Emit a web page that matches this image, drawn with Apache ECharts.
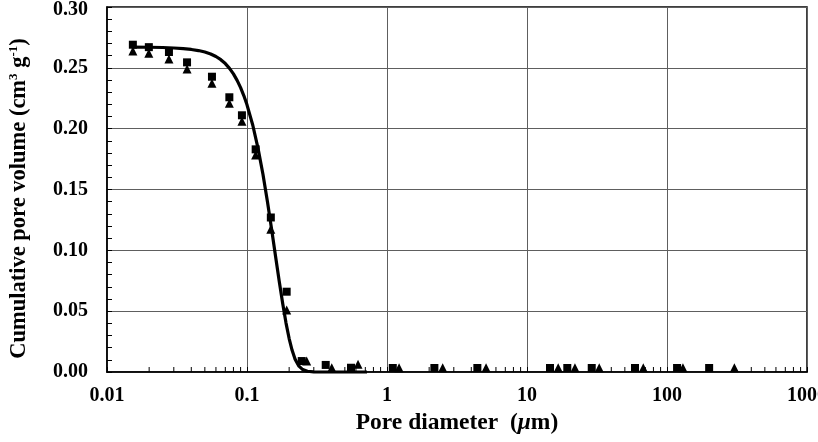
<!DOCTYPE html>
<html>
<head>
<meta charset="utf-8">
<script src="https://cdn.jsdelivr.net/npm/echarts@6/dist/echarts.min.js"></script>
<style>
html,body{margin:0;padding:0;background:#fff;}
#chart{width:818px;height:442px;}
</style>
</head>
<body>
<div id="chart"></div>
<script>
// ---- data ----
const squareX = [0.0153, 0.0199, 0.0277, 0.0373, 0.0562, 0.0748, 0.092, 0.1153, 0.148, 0.192, 0.246, 0.365, 0.553, 1.10, 2.18, 4.42, 14.6, 19.4, 29.0, 59.1, 118, 200];
const squareY = [0.269, 0.267, 0.263, 0.2545, 0.2427, 0.2258, 0.211, 0.183, 0.127, 0.066, 0.009, 0.0058, 0.0035, 0.0033, 0.0033, 0.0033, 0.0033, 0.0033, 0.0033, 0.0033, 0.0033, 0.0033];
const triangleX = [0.0153, 0.0199, 0.0277, 0.0373, 0.0562, 0.0748, 0.092, 0.1153, 0.148, 0.192, 0.267, 0.403, 0.621, 1.22, 2.50, 5.10, 16.7, 22.0, 32.8, 67.7, 130, 303];
const triangleY = [0.2638, 0.2619, 0.2573, 0.249, 0.2373, 0.2208, 0.206, 0.1784, 0.1173, 0.051, 0.009, 0.0035, 0.0063, 0.0035, 0.0035, 0.0035, 0.0035, 0.0035, 0.0035, 0.0035, 0.0035, 0.0035];
const curveX = [0.015, 0.02, 0.025, 0.03, 0.035, 0.04, 0.045, 0.05, 0.055, 0.06, 0.065, 0.07, 0.075, 0.08, 0.085, 0.09, 0.095, 0.10, 0.11, 0.12, 0.13, 0.14, 0.15, 0.16, 0.17, 0.18, 0.19, 0.20, 0.21, 0.22, 0.235, 0.25, 0.27, 0.30, 0.35, 0.40, 0.72];
const curveY = [0.267, 0.2669, 0.2667, 0.2663, 0.2658, 0.2651, 0.2642, 0.2630, 0.2614, 0.2593, 0.2567, 0.2535, 0.2496, 0.2450, 0.2397, 0.2337, 0.2270, 0.2196, 0.2028, 0.1836, 0.1625, 0.1400, 0.1172, 0.0950, 0.0744, 0.0560, 0.0402, 0.0275, 0.0178, 0.0108, 0.0048, 0.0020, 0.0006, 0.0001, 0, 0, 0];
const xTickLabels = ['0.01', '0.1', '1', '10', '100', '1000'];
const xDecades = [0.01, 0.1, 1, 10, 100];
const minorMultipliers = [2, 3, 4, 5, 6, 7, 8, 9];

const zip = (a, b) => a.map((v, i) => [v, b[i]]);
const minorTickData = [];
xDecades.forEach(d => minorMultipliers.forEach(m => minorTickData.push([d * m, 0])));

const FONT = '"Liberation Serif", "Times New Roman", serif';
const chart = echarts.init(document.getElementById('chart'), null, {renderer: 'canvas'});
chart.setOption({
  animation: false,
  backgroundColor: '#fff',
  grid: {left: 107, right: 11, top: 7, bottom: 70, containLabel: false, outerBoundsMode: 'none',
    show: true, borderColor: '#000', borderWidth: 1.5, backgroundColor: 'transparent'},
  xAxis: {
    type: 'log', logBase: 10, min: 0.01, max: 1000,
    name: 'Pore diameter  ({it|μ}m)',
    nameLocation: 'middle', nameGap: 35,
    nameTextStyle: {fontFamily: FONT, fontWeight: 'bold', fontSize: 23.5, color: '#000',
      rich: {it: {fontFamily: FONT, fontWeight: 'bold', fontStyle: 'italic', fontSize: 23.5, color: '#000'}}},
    axisLine: {show: true, lineStyle: {color: '#000', width: 1.5}},
    axisTick: {show: true, inside: true, length: 5, lineStyle: {color: '#000'}},
    minorTick: {show: false},
    axisLabel: {fontFamily: FONT, fontWeight: 'bold', fontSize: 20, color: '#000', margin: 14,
      formatter: (v, i) => xTickLabels[i] !== undefined ? xTickLabels[i] : ''},
    splitLine: {show: true, lineStyle: {color: '#5e5e5e', width: 1}}
  },
  yAxis: {
    type: 'value', min: 0, max: 0.3, interval: 0.05,
    name: 'Cumulative pore volume (cm{sup|3} g{sup|-1})',
    nameLocation: 'middle', nameGap: 76, nameRotate: 90,
    nameTextStyle: {fontFamily: FONT, fontWeight: 'bold', fontSize: 22.5, color: '#000', lineHeight: 24,
      padding: [0, 18, 0, 0],
      rich: {sup: {fontFamily: FONT, fontWeight: 'bold', fontSize: 13, color: '#000', verticalAlign: 'top', lineHeight: 24}}},
    axisLine: {show: true, lineStyle: {color: '#000', width: 1.5}},
    axisTick: {show: true, inside: true, length: 5, lineStyle: {color: '#000'}},
    minorTick: {show: true, splitNumber: 5, length: 5, lineStyle: {color: '#000'}},
    axisLabel: {fontFamily: FONT, fontWeight: 'bold', fontSize: 20, color: '#000', margin: 19,
      formatter: v => v >= 0.3 - 1e-9 ? '{top|' + v.toFixed(2) + '}' : v.toFixed(2),
      rich: {top: {fontFamily: FONT, fontWeight: 'bold', fontSize: 20, color: '#000', padding: [6, 0, 0, 0]}}},
    splitLine: {show: true, lineStyle: {color: '#5e5e5e', width: 1}}
  },
  series: [
    {
      type: 'custom', silent: true, clip: false, z: 3,
      data: minorTickData,
      encode: {x: 0, y: 1},
      renderItem: (params, api) => {
        const p = api.coord([api.value(0), 0]);
        return {type: 'line', shape: {x1: p[0], y1: p[1], x2: p[0], y2: p[1] - 5}, style: {stroke: '#000', lineWidth: 1}};
      }
    },
    {
      type: 'scatter', name: 'square', symbol: 'rect', symbolSize: 8, clip: false, z: 4,
      itemStyle: {color: '#000', opacity: 1},
      data: zip(squareX, squareY)
    },
    {
      type: 'scatter', name: 'triangle', symbol: 'triangle', symbolSize: 9, clip: false, z: 4,
      itemStyle: {color: '#000', opacity: 1},
      data: zip(triangleX, triangleY)
    },
    {
      type: 'line', name: 'fit', smooth: false, showSymbol: false, symbol: 'none', clip: false, z: 5,
      lineStyle: {color: '#000', width: 3.2, join: 'round'},
      data: zip(curveX, curveY)
    }
  ]
});
</script>
</body>
</html>
